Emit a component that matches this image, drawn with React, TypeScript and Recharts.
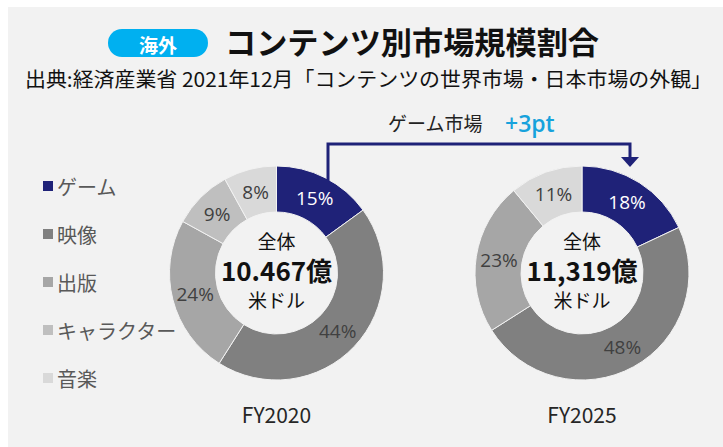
import { PieChart, Pie, Cell } from "recharts";

const CATEGORIES = ["ゲーム", "映像", "出版", "キャラクター", "音楽"];
const COLORS = ["#1f2278", "#808080", "#a6a6a6", "#bfbfbf", "#d9d9d9"];
const FY2020 = [15, 44, 24, 9, 8];
const FY2025 = [18, 48, 23, 0, 11];
const YEARS = ["FY2020", "FY2025"];
const TOTALS = ["10.467億", "11,319億"];

const JP = "'Noto Sans CJK JP', 'Noto Sans', sans-serif";
const W = 715;
const H = 440;
const CY = 266;
const CX = [268.5, 574];
const RAD = Math.PI / 180;

const toRows = (vals: number[]) =>
  CATEGORIES.map((name, i) => ({ name, value: vals[i] }));

function renderLabel(props: any) {
  const { cx, cy, midAngle, innerRadius, outerRadius, value, index } = props;
  if (!value) return null;
  const r = (innerRadius + outerRadius) / 2;
  const x = cx + r * Math.cos(-midAngle * RAD);
  const y = cy + r * Math.sin(-midAngle * RAD);
  return (
    <text
      x={x}
      y={y}
      textAnchor="middle"
      dominantBaseline="central"
      fontFamily="'Open Sans', sans-serif"
      fontSize={19}
      fill={index === 0 ? "#ffffff" : "#404040"}
    >
      {value}%
    </text>
  );
}

function LegendBox() {
  return (
    <div style={{ position: "absolute", left: 35, top: 155, fontFamily: JP }}>
      {CATEGORIES.map((c, i) => (
        <div
          key={c}
          style={{ display: "flex", alignItems: "center", height: 48, color: "#595959", fontSize: 20 }}
        >
          <span style={{ width: 10, height: 10, background: COLORS[i], marginRight: 4 }} />
          {c}
        </div>
      ))}
    </div>
  );
}

export default function App() {
  return (
    <div style={{ position: "absolute", left: 8, top: 7, width: W, height: H, background: "#f2f2f2" }}>
      <PieChart width={W} height={H} margin={{ top: 0, right: 0, bottom: 0, left: 0 }}>
        {[FY2020, FY2025].map((vals, k) => (
          <Pie
            key={YEARS[k]}
            data={toRows(vals)}
            dataKey="value"
            cx={CX[k]}
            cy={CY}
            innerRadius={61}
            outerRadius={107}
            startAngle={90}
            endAngle={-270}
            stroke="#f2f2f2"
            strokeWidth={1}
            label={renderLabel}
            labelLine={false}
            isAnimationActive={false}
          >
            {vals.map((v, i) => (
              <Cell key={i} fill={COLORS[i]} stroke={v ? "#f2f2f2" : "none"} />
            ))}
          </Pie>
        ))}
      </PieChart>
      <LegendBox />
      <svg
        width={W}
        height={H}
        style={{ position: "absolute", left: 0, top: 0, pointerEvents: "none" }}
      >
        <rect x={100} y={22} width={100} height={28} rx={14} fill="#00b0f0" />
        <text x={150} y={37} textAnchor="middle" dominantBaseline="central" fill="#fff"
          fontFamily={JP} fontSize={19} fontWeight={700}>海外</text>
        <text x={217} y={47} fontFamily={JP} fontSize={31} fontWeight={700} fill="#111"
          textLength={374} lengthAdjust="spacingAndGlyphs">コンテンツ別市場規模割合</text>
        <text x={17} y={80} fontFamily={JP} fontSize={20} fill="#111"
          textLength={687} lengthAdjust="spacingAndGlyphs">
          出典:経済産業省 2021年12月「コンテンツの世界市場・日本市場の外観」
        </text>

        <text x={380} y={124} fontFamily={JP} fontSize={19} fill="#222">ゲーム市場</text>
        <text x={497} y={125} fontFamily="'Open Sans', sans-serif" fontSize={23} fill="#17a2dc"
          fontWeight={600}>+3pt</text>
        <polyline points="320,174 320,137 622,137 622,152" fill="none" stroke="#1f2278" strokeWidth={3} />
        <polygon points="613,150 631,150 622,160" fill="#1f2278" />

        {CX.map((cx, k) => (
          <g key={k} fontFamily={JP} textAnchor="middle" fill="#111">
            <text x={cx} y={233} fontSize={19} dominantBaseline="central">全体</text>
            <text x={cx} y={262} fontSize={26} fontWeight={700} dominantBaseline="central">{TOTALS[k]}</text>
            <text x={cx} y={292} fontSize={19} dominantBaseline="central">米ドル</text>
            <text x={cx} y={407} fontSize={21} fill="#262626" dominantBaseline="central">{YEARS[k]}</text>
          </g>
        ))}
      </svg>
    </div>
  );
}
